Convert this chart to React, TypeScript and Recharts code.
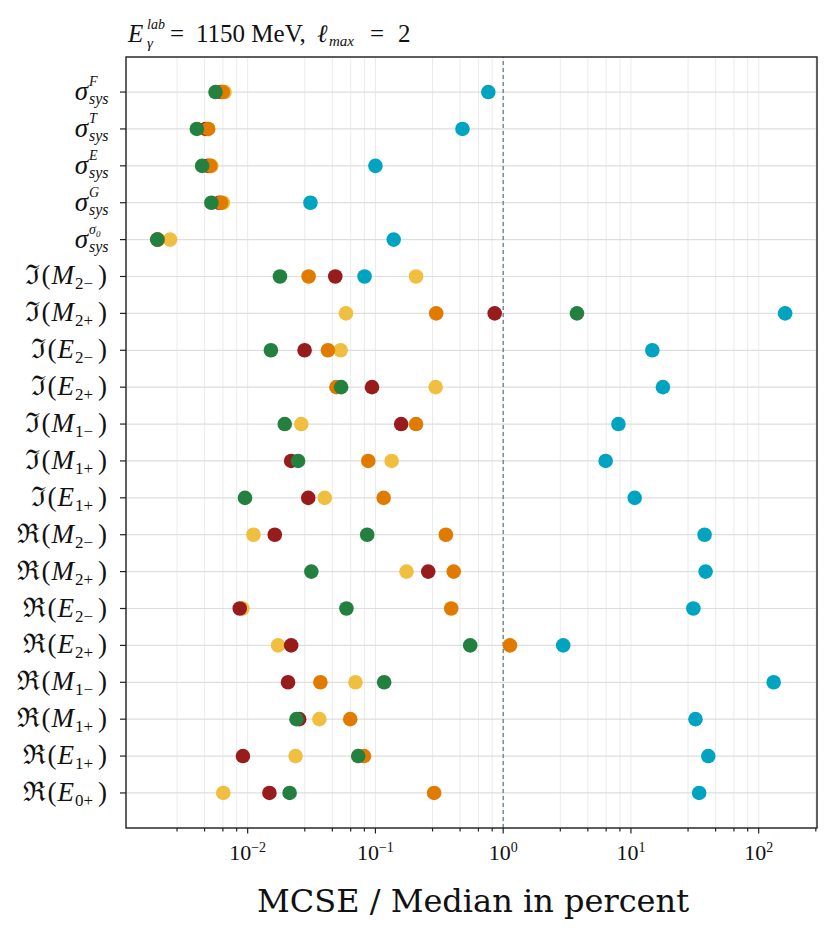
import React from "react"
import {
  ScatterChart,
  Scatter,
  XAxis,
  YAxis,
  CartesianGrid,
  ReferenceLine,
} from "recharts"

// rows, top to bottom
const categories = [
  { kind: "sigma", sup: "F" },
  { kind: "sigma", sup: "T" },
  { kind: "sigma", sup: "E" },
  { kind: "sigma", sup: "G" },
  { kind: "sigma", sup: "σ", supSub: "0" },
  { kind: "amp", part: "ℑ", mult: "M", idx: "2−" },
  { kind: "amp", part: "ℑ", mult: "M", idx: "2+" },
  { kind: "amp", part: "ℑ", mult: "E", idx: "2−" },
  { kind: "amp", part: "ℑ", mult: "E", idx: "2+" },
  { kind: "amp", part: "ℑ", mult: "M", idx: "1−" },
  { kind: "amp", part: "ℑ", mult: "M", idx: "1+" },
  { kind: "amp", part: "ℑ", mult: "E", idx: "1+" },
  { kind: "amp", part: "ℜ", mult: "M", idx: "2−" },
  { kind: "amp", part: "ℜ", mult: "M", idx: "2+" },
  { kind: "amp", part: "ℜ", mult: "E", idx: "2−" },
  { kind: "amp", part: "ℜ", mult: "E", idx: "2+" },
  { kind: "amp", part: "ℜ", mult: "M", idx: "1−" },
  { kind: "amp", part: "ℜ", mult: "M", idx: "1+" },
  { kind: "amp", part: "ℜ", mult: "E", idx: "1+" },
  { kind: "amp", part: "ℜ", mult: "E", idx: "0+" },
]

const yellowVals = [0.0066, 0.0049, 0.0052, 0.0064, 0.00247, 0.208, 0.0588, 0.0534, 0.296, 0.0263, 0.134, 0.0401, 0.0111, 0.175, 0.0091, 0.0173, 0.0698, 0.0364, 0.0237, 0.00644]
const redVals = [0.0062, 0.0047, 0.0049, 0.006, 0.00197, 0.0485, 0.858, 0.0279, 0.094, 0.159, 0.0219, 0.0298, 0.0163, 0.259, 0.00867, 0.0219, 0.0207, 0.0253, 0.00918, 0.0148]
const orangeVals = [0.0064, 0.0049, 0.0051, 0.0062, 0.00198, 0.03, 0.299, 0.0425, 0.0495, 0.208, 0.0879, 0.116, 0.356, 0.41, 0.392, 1.13, 0.0371, 0.0635, 0.0814, 0.288]
const greenVals = [0.0056, 0.004, 0.0044, 0.0052, 0.00196, 0.0179, 3.78, 0.0152, 0.0539, 0.0195, 0.0248, 0.00953, 0.0862, 0.0315, 0.0593, 0.552, 0.117, 0.0241, 0.0733, 0.0213]
const cyanVals = [0.765, 0.48, 0.1, 0.031, 0.139, 0.0822, 161, 14.7, 17.8, 7.98, 6.34, 10.7, 37.7, 38.4, 30.8, 2.95, 131, 32.0, 40.3, 34.2]

const majorTicks = [0.01, 0.1, 1, 10, 100]
const minorMantissas = [2.8, 4.6, 6.4, 8.2]
const decades = [-3, -2, -1, 0, 1, 2]

const X_MIN = 1.116e-3
const X_MAX = 286

const minorTicks = decades
  .flatMap(d => minorMantissas.map(m => Number((m * Math.pow(10, d)).toPrecision(3))))
  .filter(v => v >= X_MIN && v <= X_MAX)
const allTicks = [...minorTicks, ...majorTicks].sort((a, b) => a - b)

const series = [
  { name: "yellow", color: "#F0BF40", values: yellowVals },
  { name: "red", color: "#981C1C", values: redVals },
  { name: "orange", color: "#E07B00", values: orangeVals },
  { name: "green", color: "#23803F", values: greenVals },
  { name: "cyan", color: "#00A4C0", values: cyanVals },
]

const W = 834
const H = 938
const PLOT_LEFT = 126
const PLOT_TOP = 57
const PLOT_RIGHT = 817
const PLOT_BOTTOM = 828
const INK = "#111"
const SERIF = "'Liberation Serif', 'DejaVu Serif', serif"

const XTick = (props: any) => {
  const { x, payload } = props
  const v = payload.value
  const major = majorTicks.includes(v)
  const exp = Math.round(Math.log10(v))
  return (
    <g>
      <line x1={x} x2={x} y1={PLOT_BOTTOM} y2={PLOT_BOTTOM + (major ? 5.5 : 3.5)} stroke="#222" strokeWidth={1.2} />
      {major && (
        <text x={x} y={860} textAnchor="middle" fontFamily={SERIF} fontSize={22} fill={INK}>
          10<tspan dy={-8} fontSize={14}>{exp < 0 ? `−${-exp}` : `${exp}`}</tspan>
        </text>
      )}
    </g>
  )
}

const YTick = (props: any) => {
  const { y, payload } = props
  const row = categories[payload.value]
  if (!row) return null
  return (
    <g>
      <line x1={PLOT_LEFT - 6} x2={PLOT_LEFT} y1={y} y2={y} stroke="#222" strokeWidth={1.2} />
      {row.kind === "sigma" ? (
        <g fontFamily={SERIF} fill={INK} fontStyle="italic">
          <text x={88} y={y + 8} textAnchor="end" fontSize={27}>σ</text>
          <text x={89} y={y - 6} fontSize={14}>
            {row.sup}
            {row.supSub && <tspan fontSize={9} dy={3}>{row.supSub}</tspan>}
          </text>
          <text x={89} y={y + 12} fontSize={16}>sys</text>
        </g>
      ) : (
        <text x={107} y={y + 8} textAnchor="end" fontFamily={SERIF} fontSize={27} fill={INK}>
          <tspan>{row.part}</tspan>
          <tspan dx={1}>(</tspan>
          <tspan dx={1} fontStyle="italic">{row.mult}</tspan>
          <tspan dx={1} fontSize={17} dy={5}>{row.idx}</tspan>
          <tspan dx={5} dy={-5}>)</tspan>
        </text>
      )}
    </g>
  )
}

export default function App() {
  const rowTicks = categories.map((_, i) => i)

  return (
    <div style={{ position: "absolute", left: 0, top: 0, width: W, height: H, background: "#fff" }}>
      <ScatterChart
        width={W}
        height={H}
        margin={{ top: PLOT_TOP, right: W - PLOT_RIGHT, left: PLOT_LEFT - 100, bottom: H - PLOT_BOTTOM - 70 }}
      >
        <CartesianGrid horizontal={false} stroke="#ebebeb" strokeWidth={1} />
        <CartesianGrid vertical={false} stroke="#dedede" strokeWidth={1.2} />
        <XAxis
          type="number"
          dataKey="x"
          scale="log"
          domain={[X_MIN, X_MAX]}
          allowDataOverflow
          ticks={allTicks}
          interval={0}
          tick={<XTick />}
          tickLine={false}
          axisLine={false}
          height={70}
        />
        <YAxis
          type="number"
          dataKey="y"
          reversed
          domain={[-0.95, 19.95]}
          ticks={rowTicks}
          interval={0}
          tick={<YTick />}
          tickLine={false}
          axisLine={false}
          width={100}
        />
        <ReferenceLine x={1} stroke="#5a7092" strokeWidth={1.2} strokeDasharray="4 3" />
        {series.map(s => (
          <Scatter
            key={s.name}
            name={s.name}
            data={s.values.map((v, i) => ({ x: v, y: i }))}
            isAnimationActive={false}
            shape={(p: any) => <circle cx={p.cx} cy={p.cy} r={7.3} fill={s.color} />}
          />
        ))}
      </ScatterChart>

      <svg
        width={W}
        height={H}
        style={{ position: "absolute", left: 0, top: 0, pointerEvents: "none" }}
      >
        <rect
          x={PLOT_LEFT}
          y={PLOT_TOP}
          width={PLOT_RIGHT - PLOT_LEFT}
          height={PLOT_BOTTOM - PLOT_TOP}
          fill="none"
          stroke="#222"
          strokeWidth={1.4}
        />
        {/* title */}
        <g fontFamily={SERIF} fill={INK}>
          <text x={128} y={42} fontSize={25} fontStyle="italic">E</text>
          <text x={147} y={29} fontSize={14} fontStyle="italic">lab</text>
          <text x={147} y={48} fontSize={15} fontStyle="italic">γ</text>
          <text x={170} y={42} fontSize={25}>=</text>
          <text x={196} y={42} fontSize={25}>1150 MeV,</text>
          <text x={317} y={42} fontSize={25} fontStyle="italic">ℓ</text>
          <text x={329} y={46} fontSize={15} fontStyle="italic">max</text>
          <text x={370} y={42} fontSize={25}>=</text>
          <text x={398} y={42} fontSize={25}>2</text>
        </g>
        <text x={473} y={912} textAnchor="middle" fontFamily="'DejaVu Serif', serif" fontSize={32} fill={INK}>
          MCSE / Median in percent
        </text>
      </svg>
    </div>
  )
}
